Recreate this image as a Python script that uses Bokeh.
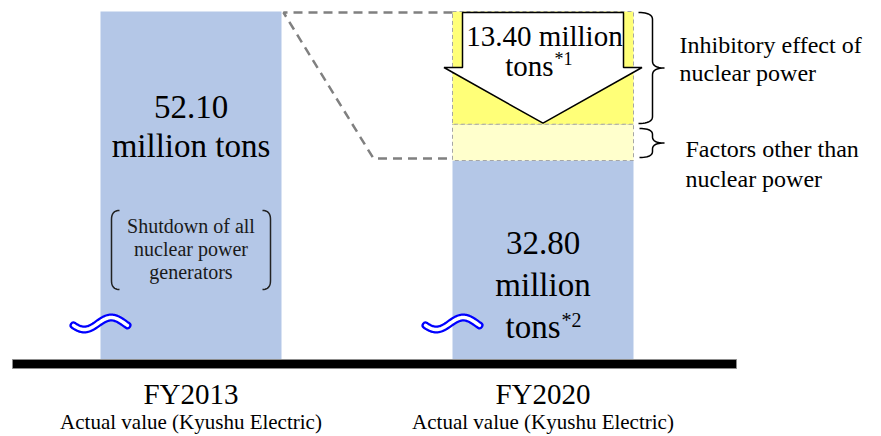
import numpy as np
from bokeh.plotting import figure
from bokeh.models import Range1d
from bokeh.embed import file_html
from bokeh.resources import INLINE
from bokeh.core.properties import value

# ---------------- data ----------------
categories = ["FY2013", "FY2020"]
category_notes = ["Actual value (Kyushu Electric)", "Actual value (Kyushu Electric)"]
emissions = [52.10, 32.80]          # CO2 emissions, million tons
inhibitory_effect = 13.40           # million tons (labelled)
other_factors = 4.7                 # (light-yellow block)
bar_value_text = [["52.10", "million tons"], ["32.80", "million", "tons"]]
effect_text = ["13.40 million", "tons"]
footnote_marks = ["*1", "*2"]
shutdown_text = ["Shutdown of all", "nuclear power", "generators"]
brace_text = [["Inhibitory effect of", "nuclear power"], ["Factors other than", "nuclear power"]]

# ---------------- layout (page pixels) ----------------
FONT = "Liberation Serif, Times New Roman, DejaVu Serif, serif"
W, H = 881, 436
PX0, PY0 = 0, 0
CAT_X0, CAT_STEP = 190.5, 352.0
BAR_W_PX = 181.0
TOP_PX, MID_PX, BASE_PX = 11.0, 160.0, 359.0
PXU = (MID_PX - TOP_PX) / (emissions[0] - emissions[1])


def X(px):
    return (np.asarray(px, dtype=float) - CAT_X0) / CAT_STEP


def Y(py):
    return emissions[1] + (MID_PX - np.asarray(py, dtype=float)) / PXU


def dx(px):
    return px / CAT_STEP


def dy(py):
    return py / PXU


p = figure(width=W, height=H, output_backend="svg", toolbar_location=None,
           x_range=Range1d(float(X(PX0)), float(X(PX0 + W))),
           y_range=Range1d(float(Y(PY0 + H)), float(Y(PY0))),
           min_border=0, min_border_left=0, min_border_right=0,
           min_border_top=0, min_border_bottom=0)
p.axis.visible = False
p.xgrid.visible = False
p.ygrid.visible = False
p.outline_line_color = None
p.background_fill_color = "white"
p.border_fill_color = "white"

xs = list(range(len(categories)))
bw = dx(BAR_W_PX)
floor = float(Y(BASE_PX))

# bars
p.vbar(x=xs, top=emissions, bottom=floor, width=bw, fill_color="#B4C7E7", line_color=None)

# stacked reduction blocks on FY2020
seg_bottom = [emissions[1], emissions[1] + other_factors]
seg_top = [emissions[1] + other_factors, emissions[0]]
p.vbar(x=[1, 1], bottom=seg_bottom, top=seg_top, width=bw,
       fill_color=["#FFFFCC", "#FFFF78"], line_color="#A6A6A6",
       line_dash="4 3", line_width=1)

# baseline
p.quad(left=float(X(12)), right=float(X(736)), bottom=float(Y(368)), top=float(Y(359)),
       fill_color="#000000", line_color="#8C8C8C", line_width=1)

# dashed connector
b0r = 0 + bw / 2
b1l = 1 - bw / 2
p.line(x=[b1l, b0r + dx(2), float(X(373)), b1l],
       y=[emissions[0] - dy(1), emissions[0] - dy(1), emissions[1] + dy(2), emissions[1] + dy(2)],
       line_color="#808080", line_width=2.5, line_dash="9 6")

# arrow
a_top = emissions[0] - dy(1)
a_tip = emissions[1] + other_factors + dy(1)
a_neck = float(Y(67))
sh, hh = dx(80.5), dx(99)
p.patch(x=[1 - sh, 1 - sh, 1 - hh, 1, 1 + hh, 1 + sh, 1 + sh],
        y=[a_top, a_neck, a_neck, a_tip, a_neck, a_neck, a_top],
        fill_color="white", line_color="black", line_width=1.5)


def qbez(p0, c, p1, n=12):
    t = np.linspace(0, 1, n)[:, None]
    p0, c, p1 = map(np.asarray, (p0, c, p1))
    return (1 - t) ** 2 * p0 + 2 * (1 - t) * t * c + t ** 2 * p1


def brace(x0, xv, xt, yt, yb, r):
    ym = (yt + yb) / 2
    pts = np.vstack([
        qbez((x0, yt), (xv, yt), (xv, yt + r)),
        qbez((xv, ym - r), (xv, ym), (xt, ym)),
        qbez((xt, ym), (xv, ym), (xv, ym + r)),
        qbez((xv, yb - r), (xv, yb), (x0, yb)),
    ])
    p.line(x=X(pts[:, 0]), y=Y(pts[:, 1]), line_color="black", line_width=1.5)


def paren(xe, xv, yt, yb, r):
    pts = np.vstack([
        qbez((xe, yt), (xv, yt), (xv, yt + r)),
        qbez((xv, yb - r), (xv, yb), (xe, yb)),
    ])
    p.line(x=X(pts[:, 0]), y=Y(pts[:, 1]), line_color="#222222", line_width=1.5)


brace(638, 652, 664, 12, 123, 7)
brace(639, 652, 664, 128, 157, 6)
paren(119, 111, 210, 289, 9)
paren(262, 270, 210, 289, 9)


def wave(cx, cy, w=54, a=6):
    t = np.linspace(0, 1, 80)
    wx = cx - w / 2 + t * w
    wy = cy + a * np.cos(2 * np.pi * (t - 0.2))
    p.line(x=X(wx), y=Y(wy), line_color="#0000FF", line_width=8, line_cap="round")
    p.line(x=X(wx), y=Y(wy), line_color="white", line_width=3.5, line_cap="round")


for i in xs:
    left_px = CAT_X0 + i * CAT_STEP - BAR_W_PX / 2
    wave(left_px, 323)


def txt(x, base_px, s, size, align="center", color="#000000"):
    # base_px: intended baseline in page pixels; corrected for renderer offset
    yy = Y(base_px - 0.33 * size)
    p.text(x=[float(x)], y=[float(yy)], text=[s], text_font=value(FONT),
           text_font_size=f"{size}px", text_align=align,
           text_baseline="alphabetic", text_color=color)


# value labels in bars
for line, by in zip(bar_value_text[0], [117, 156]):
    txt(0, by, line, 33)
txt(1, 253, bar_value_text[1][0], 33)
txt(1, 295, bar_value_text[1][1], 33)
txt(X(560), 337, bar_value_text[1][2], 33, align="right")
txt(X(561), 326, footnote_marks[1], 20, align="left")

# arrow label
txt(X(544), 45, effect_text[0], 29)
txt(X(553), 75, effect_text[1], 29, align="right")
txt(X(554), 64, footnote_marks[0], 18, align="left")

# shutdown note
for line, by in zip(shutdown_text, [232, 255, 278]):
    txt(0, by, line, 20, color="#1a1a1a")

# brace labels
for lines, lx, bys in zip(brace_text, [679, 685], [[52, 80], [156, 186]]):
    for line, by in zip(lines, bys):
        txt(X(lx), by, line, 24, align="left")

# category labels
for i in xs:
    txt(i, 403, categories[i], 29)
    txt(i, 428, category_notes[i], 21)

open("out.html", "w").write(file_html(p, INLINE))
